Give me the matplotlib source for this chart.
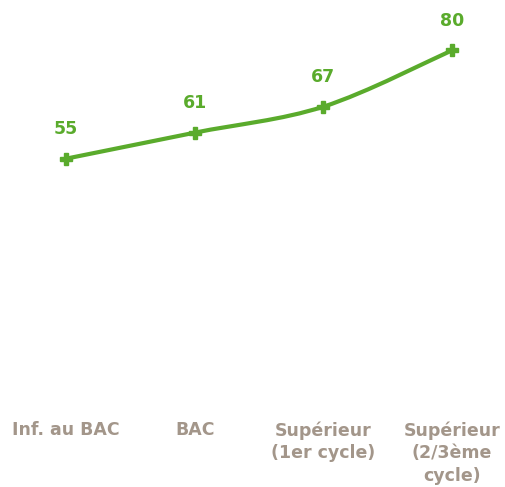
import numpy as np
import matplotlib
matplotlib.use("Agg")
from matplotlib import pyplot as plt
from matplotlib.path import Path
from matplotlib.patches import PathPatch

# data
categories = ["Inf. au BAC", "BAC", "Supérieur\n(1er cycle)", "Supérieur\n(2/3ème\ncycle)"]
values = [55, 61, 67, 80]

green = "#5aab2c"
grey = "#a3968a"

W, H = 505, 487
fig = plt.figure(figsize=(W / 100, H / 100), dpi=100)
# axes covers y from 0 (px 397) to top, x spans whole figure
ax = fig.add_axes([0, (H - 397) / H, 1, 397 / H])

x = np.arange(len(values))
y = np.array(values, dtype=float)

# smoothed line (Excel style), bezier control points from neighbours
verts = [(x[0], y[0])]
codes = [Path.MOVETO]
n = len(x)
for i in range(n - 1):
    p0 = max(i - 1, 0)
    p3 = min(i + 2, n - 1)
    c1 = (x[i] + (x[i + 1] - x[p0]) / 6, y[i] + (y[i + 1] - y[p0]) / 6)
    c2 = (x[i + 1] - (x[p3] - x[i]) / 6, y[i + 1] - (y[p3] - y[i]) / 6)
    verts += [c1, c2, (x[i + 1], y[i + 1])]
    codes += [Path.CURVE4] * 3
ax.add_patch(PathPatch(Path(verts, codes), facecolor="none", edgecolor=green,
                       lw=3, capstyle="round", joinstyle="round"))
ax.plot(x, y, linestyle="none", marker="P", markersize=8.5, color=green)

for xi, v in zip(x, values):
    ax.annotate(str(v), (xi, v), xytext=(0, 15), textcoords="offset points",
                ha="center", va="bottom", color=green, fontsize=12.5, fontweight="bold")

px = 128.67
ax.set_xlim(-66 / px, (W - 66) / px)
ax.set_ylim(0, 397 / 4.333)
ax.set_xticks(x)
ax.set_xticklabels(categories, color=grey, fontsize=12.5, fontweight="bold",
                   linespacing=1.33, va="top")
ax.tick_params(axis="x", length=0, pad=17.5)
ax.set_yticks([])
for s in ax.spines.values():
    s.set_visible(False)

fig.savefig("out.png", dpi=100)
